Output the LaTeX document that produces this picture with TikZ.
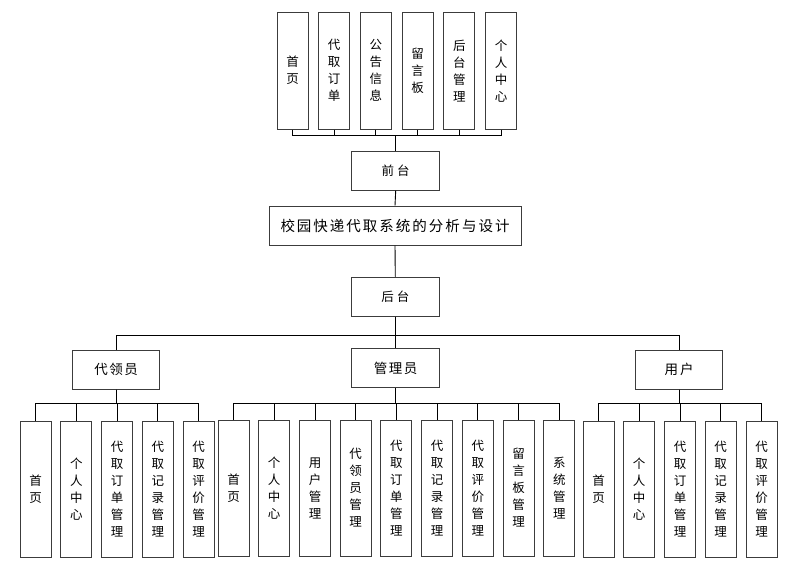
\documentclass[tikz,border=0pt]{standalone}
\usepackage{fontspec}
\newfontfamily\cjk{Noto Sans CJK SC}
\definecolor{boxline}{RGB}{60,60,60}
\begin{document}
\begin{tikzpicture}[x=1pt,y=-1pt,
  ln/.style={draw=black,line width=0.9pt},
  vbox/.style={draw=boxline,line width=1pt,minimum width=31pt,inner sep=0pt,align=center,font=\cjk\fontsize{12.5}{17}\selectfont},
  topv/.style={vbox,minimum height=116.7pt},
  lowv/.style={vbox,minimum height=136pt},
  hbox/.style={draw=boxline,line width=1pt,minimum width=87.5pt,minimum height=39pt,inner sep=0pt,font=\cjk\fontsize{13.5}{15}\selectfont},
  tbox/.style={draw=boxline,line width=1pt,minimum width=252pt,minimum height=39pt,inner sep=0pt,font=\cjk\fontsize{14.5}{16}\selectfont}
]
\useasboundingbox (0,0) rectangle (811,560);
\def\k{\kern2pt}
% top row
\node[topv] (t1) at (292.5,70.7) {首\\页};
\node[topv] (t2) at (334.2,70.7) {代\\取\\订\\单};
\node[topv] (t3) at (375.9,70.7) {公\\告\\信\\息};
\node[topv] (t4) at (417.6,70.7) {留\\言\\板};
\node[topv] (t5) at (459.3,70.7) {后\\台\\管\\理};
\node[topv] (t6) at (501.0,70.7) {个\\人\\中\\心};
\node[hbox,font=\cjk\fontsize{12.5}{14}\selectfont] (front) at (395.7,170.7) {前\kern3pt 台};
\node[tbox] (title) at (395,225.5) {校\k 园\k 快\k 递\k 代\k 取\k 系\k 统\k 的\k 分\k 析\k 与\k 设\k 计};
\node[hbox,font=\cjk\fontsize{12.5}{14}\selectfont] (back) at (395.3,296.7) {后\kern3pt 台};
\node[hbox] (dly) at (116.2,369.5) {代\kern1.5pt 领\kern1.5pt 员};
\node[hbox] (gly) at (395.5,368.3) {管\kern1.5pt 理\kern1.5pt 员};
\node[hbox] (yh) at (679,369.5) {用\kern2pt 户};
% bus coordinates
\coordinate (bA) at (0,135.7);
\coordinate (bB) at (0,335.7);
\coordinate (bC) at (0,403.3);
% children of 代领员
\node[lowv] (d1) at (35.7,489.3) {首\\页};
\node[lowv] (d2) at (76.4,489.3) {个\\人\\中\\心};
\node[lowv] (d3) at (117.1,489.3) {代\\取\\订\\单\\管\\理};
\node[lowv] (d4) at (157.8,489.3) {代\\取\\记\\录\\管\\理};
\node[lowv] (d5) at (198.5,489.3) {代\\取\\评\\价\\管\\理};
% children of 管理员
\node[lowv] (g1) at (233.5,488) {首\\页};
\node[lowv] (g2) at (274.2,488) {个\\人\\中\\心};
\node[lowv] (g3) at (315.0,488) {用\\户\\管\\理};
\node[lowv] (g4) at (355.7,488) {代\\领\\员\\管\\理};
\node[lowv] (g5) at (396.4,488) {代\\取\\订\\单\\管\\理};
\node[lowv] (g6) at (437.1,488) {代\\取\\记\\录\\管\\理};
\node[lowv] (g7) at (477.9,488) {代\\取\\评\\价\\管\\理};
\node[lowv] (g8) at (518.6,488) {留\\言\\板\\管\\理};
\node[lowv] (g9) at (559.3,488) {系\\统\\管\\理};
% children of 用户
\node[lowv] (u1) at (598.5,489.3) {首\\页};
\node[lowv] (u2) at (639.2,489.3) {个\\人\\中\\心};
\node[lowv] (u3) at (680.0,489.3) {代\\取\\订\\单\\管\\理};
\node[lowv] (u4) at (720.7,489.3) {代\\取\\记\\录\\管\\理};
\node[lowv] (u5) at (761.5,489.3) {代\\取\\评\\价\\管\\理};
% connectors
\foreach \n in {t1,t2,t3,t4,t5,t6}
  \draw[ln] (\n.south) -- (\n.south |- bA) -| (front.north);
\draw[ln] (front.south) -- (title.north);
\draw[ln] (title.south) -- (back.north);
\foreach \n in {dly,gly,yh}
  \draw[ln] (back.south) -- (back.south |- bB) -| (\n.north);
\foreach \n in {d1,d2,d3,d4,d5}
  \draw[ln] (dly.south) -- (dly.south |- bC) -| (\n.north);
\foreach \n in {g1,g2,g3,g4,g5,g6,g7,g8,g9}
  \draw[ln] (gly.south) -- (gly.south |- bC) -| (\n.north);
\foreach \n in {u1,u2,u3,u4,u5}
  \draw[ln] (yh.south) -- (yh.south |- bC) -| (\n.north);
\end{tikzpicture}
\end{document}
